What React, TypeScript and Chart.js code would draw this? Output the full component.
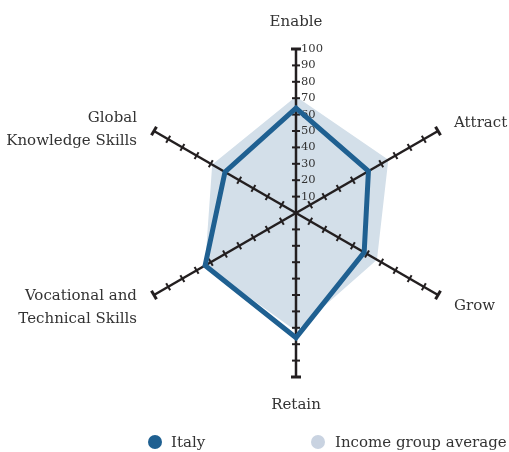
import React, { useEffect, useRef } from "react";
import { Chart, registerables } from "chart.js";

Chart.register(...registerables);

const categories: (string | string[])[] = [
  "Enable",
  "Attract",
  "Grow",
  "Retain",
  ["Vocational and", "Technical Skills"],
  ["Global", "Knowledge Skills"],
];
const italyValues = [64, 51, 48, 76, 64, 50];
const incomeAvgValues = [71, 65, 57, 72, 64, 59];
const tickLabels = [10, 20, 30, 40, 50, 60, 70, 80, 90, 100];
const seriesNames = ["Italy", "Income group average"];

const FONT = "'DejaVu Serif', serif";
const ITALY_COLOR = "#1f6091";
const AVG_FILL = "#d3dfe9";
const AVG_LEGEND = "#c9d3e1";
const AXIS_COLOR = "#231f20";
const TEXT_COLOR = "#333333";

// label placement per axis: [align, dx, first-line baseline dy]
const labelPlacement: [CanvasTextAlign, number, number][] = [
  ["center", 0, -23],
  ["left", 16, -4],
  ["left", 16, 15],
  ["center", 0, 32],
  ["right", -17, 5],
  ["right", -17, -9],
];

const decorPlugin = {
  id: "radarDecor",
  beforeDatasetDraw(chart: any, args: any) {
    if (args.index !== 0) return;
    const scale = chart.scales.r;
    const ctx: CanvasRenderingContext2D = chart.ctx;
    const n = chart.data.labels.length;
    ctx.save();
    ctx.lineCap = "butt";
    for (let i = 0; i < n; i++) {
      const p0 = scale.getPointPositionForValue(i, 0);
      const p1 = scale.getPointPositionForValue(i, scale.max);
      ctx.strokeStyle = AXIS_COLOR;
      ctx.lineWidth = 2.5;
      ctx.beginPath();
      ctx.moveTo(p0.x, p0.y);
      ctx.lineTo(p1.x, p1.y);
      ctx.stroke();
      const ang = Math.atan2(p1.y - p0.y, p1.x - p0.x);
      const nx = -Math.sin(ang);
      const ny = Math.cos(ang);
      for (const v of tickLabels) {
        const p = scale.getPointPositionForValue(i, v);
        const end = v === scale.max;
        const half = end ? 5 : 4;
        ctx.lineWidth = end ? 3 : 2;
        ctx.beginPath();
        ctx.moveTo(p.x - nx * half, p.y - ny * half);
        ctx.lineTo(p.x + nx * half, p.y + ny * half);
        ctx.stroke();
      }
    }
    // tick labels
    ctx.fillStyle = "#333333";
    ctx.font = `11.5px ${FONT}`;
    ctx.textAlign = "left";
    ctx.textBaseline = "middle";
    for (const v of tickLabels) {
      const p = scale.getPointPositionForValue(0, v);
      ctx.fillText(String(v), p.x + 5, p.y);
    }
    // point labels
    ctx.fillStyle = TEXT_COLOR;
    ctx.font = `15px ${FONT}`;
    ctx.textBaseline = "alphabetic";
    for (let i = 0; i < n; i++) {
      const p = scale.getPointPositionForValue(i, scale.max);
      const [align, dx, dy] = labelPlacement[i];
      const lbl = chart.data.labels[i];
      const lines = Array.isArray(lbl) ? lbl : [lbl];
      ctx.textAlign = align;
      lines.forEach((line: string, k: number) => {
        ctx.fillText(line, p.x + dx, p.y + dy + k * 23);
      });
    }
    ctx.restore();
  },
};

export default function App() {
  const canvasRef = useRef<HTMLCanvasElement | null>(null);

  useEffect(() => {
    document.body.style.margin = "0";
    const canvas = canvasRef.current;
    if (!canvas) return;
    const chart = new Chart(canvas, {
      type: "radar",
      data: {
        labels: categories,
        datasets: [
          {
            label: seriesNames[0],
            data: italyValues,
            borderColor: ITALY_COLOR,
            backgroundColor: ITALY_COLOR,
            borderWidth: 5,
            borderJoinStyle: "miter",
            fill: false,
            pointRadius: 0,
            pointHoverRadius: 0,
          },
          {
            label: seriesNames[1],
            data: incomeAvgValues,
            borderColor: AVG_FILL,
            backgroundColor: AVG_FILL,
            borderWidth: 0,
            fill: true,
            pointRadius: 0,
            pointHoverRadius: 0,
          },
        ],
      },
      options: {
        animation: false,
        responsive: true,
        maintainAspectRatio: false,
        layout: { padding: { left: 132, right: 49, top: 49, bottom: 75 } },
        plugins: {
          legend: { display: false },
          tooltip: { enabled: false },
        },
        scales: {
          r: {
            min: 0,
            max: 100,
            ticks: { display: false, stepSize: 10 },
            grid: { display: false },
            angleLines: { display: false },
            pointLabels: { display: false },
          },
        },
      },
      plugins: [decorPlugin],
    });
    return () => chart.destroy();
  }, []);

  const legendText: React.CSSProperties = {
    position: "absolute",
    fontFamily: FONT,
    fontSize: 15,
    color: TEXT_COLOR,
    lineHeight: "18px",
    top: 433,
    whiteSpace: "nowrap",
  };
  const dot = (color: string, left: number): React.CSSProperties => ({
    position: "absolute",
    left,
    top: 435,
    width: 14,
    height: 14,
    borderRadius: "50%",
    background: color,
  });

  return (
    <div style={{ position: "relative", width: 509, height: 452 }}>
      <canvas ref={canvasRef} />
      <div style={dot(ITALY_COLOR, 148)} />
      <div style={{ ...legendText, left: 171 }}>{seriesNames[0]}</div>
      <div style={dot(AVG_LEGEND, 311)} />
      <div style={{ ...legendText, left: 335 }}>{seriesNames[1]}</div>
    </div>
  );
}
